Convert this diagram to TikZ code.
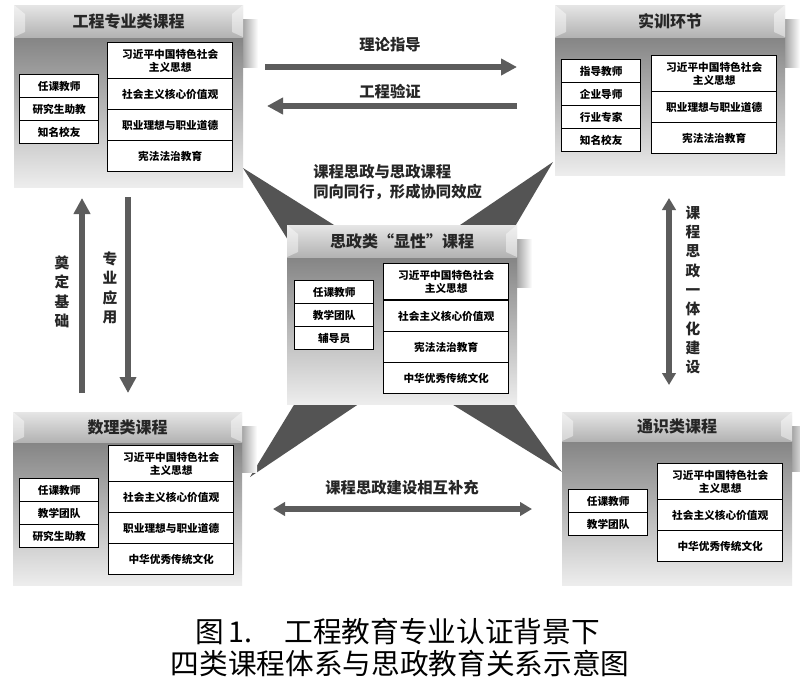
\documentclass[tikz,border=0pt]{standalone}
\usepackage{fontspec}
\setmainfont{Noto Sans CJK SC}
\usetikzlibrary{arrows.meta,fit}
\definecolor{btop}{gray}{0.52}
\definecolor{bbot}{gray}{0.93}
\definecolor{htop}{gray}{0.90}
\definecolor{hbot}{gray}{0.70}
\definecolor{arrowc}{gray}{0.36}
\definecolor{wedgec}{gray}{0.33}
\definecolor{txtc}{gray}{0.15}
\tikzset{
  cell/.style={draw=black, line width=1.1pt, fill=white, inner sep=0pt, align=center,
    font=\fontsize{8}{10}\selectfont\bfseries, anchor=north west},
  lc/.style={cell, minimum width=59.25pt, minimum height=17.25pt},
  rc/.style={cell, minimum width=93.75pt, minimum height=23.25pt},
  rct/.style={rc, minimum height=27pt},
  bodybox/.style={inner sep=0pt, draw=none, top color=btop, bottom color=bbot},
  hdrbox/.style={inner sep=0pt, draw=none, top color=htop, bottom color=hbot},
  titletext/.style={font=\fontsize{12}{14}\selectfont\bfseries, text=txtc},
  lbl/.style={font=\fontsize{11.5}{15}\selectfont\bfseries, text=txtc, inner sep=0pt},
  vlbl/.style={font=\fontsize{11}{14.5}\selectfont\bfseries, text=txtc, align=center, inner sep=0pt},
  fatarrow/.style={draw=arrowc, line width=5pt, -{Triangle[length=12pt,width=12pt]}},
  midarrow/.style={draw=arrowc, line width=4.5pt, {Triangle[length=9pt,width=10pt]}-{Triangle[length=9pt,width=10pt]}},
  wedge/.style={fill=wedgec},
  capt/.style={font=\fontsize{21.5}{26}\selectfont, text=black, inner sep=0pt}
}
\newcommand\coursebox[7]{%
  \fill[left color=gray!80, right color=white] (#3-2,#4+14) rectangle (#3+15,#5+30);
  \node[bodybox, fit={(#2,#5) (#3,#6)}] (#1b) {};
  \node[hdrbox, fit={(#2,#4) (#3,#5)}] (#1h) {};
  \fill[white, opacity=0.45] (#2,#4) -- (#2+11,#4+9) -- (#2+11,#5-5) -- (#2,#5) -- cycle;
  \fill[white, opacity=0.45] (#3,#4) -- (#3-11,#4+9) -- (#3-11,#5-5) -- (#3,#5) -- cycle;
  \node[titletext] (#1t) at (#1h) {#7};
}
\begin{document}
\begin{tikzpicture}[x=0.75pt,y=-0.75pt]
\useasboundingbox (0,0) rectangle (800,686);
\fill[white] (0,0) rectangle (800,686);

% wedges (behind boxes)
\fill[wedge] (243,168) -- (288,240) -- (358,240) -- cycle;
\fill[wedge] (553,162) -- (438,240) -- (507,240) -- cycle;
\fill[wedge] (250,477) -- (300,395) -- (372,395) -- cycle;
\fill[wedge] (562,472) -- (437,395) -- (507,395) -- cycle;

% top-left box
\coursebox{A}{14}{243}{5}{37}{187}{工程专业类课程}
\node[lc] (A1) at (19,74) {任课教师};
\node[lc] (A2) at (19,97) {研究生助教};
\node[lc] (A3) at (19,120) {知名校友};
\node[rct] (A4) at (107,42) {习近平中国特色社会\\主义思想};
\node[rc] (A5) at (107,78) {社会主义核心价值观};
\node[rc] (A6) at (107,109) {职业理想与职业道德};
\node[rc] (A7) at (107,140) {宪法法治教育};

% top-right box
\coursebox{B}{555}{785}{5}{37}{175}{实训环节}
\node[lc] (B1) at (561,59) {指导教师};
\node[lc] (B2) at (561,82) {企业导师};
\node[lc] (B3) at (561,105) {行业专家};
\node[lc] (B4) at (561,128) {知名校友};
\node[rct] (B5) at (651,55) {习近平中国特色社会\\主义思想};
\node[rc] (B6) at (651,91) {职业理想与职业道德};
\node[rc] (B7) at (651,122) {宪法法治教育};

% center box
\coursebox{C}{287}{517}{225}{257}{404}{思政类“显性”课程}
\node[lc] (C1) at (294,280) {任课教师};
\node[lc] (C2) at (294,303) {教学团队};
\node[lc] (C3) at (294,326) {辅导员};
\node[rct] (C4) at (383,263) {习近平中国特色社会\\主义思想};
\node[rc] (C5) at (383,300) {社会主义核心价值观};
\node[rc] (C6) at (383,331) {宪法法治教育};
\node[rc] (C7) at (383,362) {中华优秀传统文化};

% bottom-left box
\coursebox{D}{13}{242}{412}{442}{585}{数理类课程}
\node[lc] (D1) at (19,478) {任课教师};
\node[lc] (D2) at (19,501) {教学团队};
\node[lc] (D3) at (19,524) {研究生助教};
\node[rct] (D4) at (108,445) {习近平中国特色社会\\主义思想};
\node[rc] (D5) at (108,481) {社会主义核心价值观};
\node[rc] (D6) at (108,512) {职业理想与职业道德};
\node[rc] (D7) at (108,543) {中华优秀传统文化};

% bottom-right box
\coursebox{E}{562}{792}{412}{441}{585}{通识类课程}
\node[lc] (E1) at (568,489) {任课教师};
\node[lc] (E2) at (568,512) {教学团队};
\node[rct] (E3) at (657,463) {习近平中国特色社会\\主义思想};
\node[rc] (E4) at (657,499) {社会主义核心价值观};
\node[rc] (E5) at (657,530) {中华优秀传统文化};

% arrows
\coordinate (t1s) at (265,67);  \coordinate (t1e) at (517,67);
\coordinate (t2s) at (517,106); \coordinate (t2e) at (267,106);
\draw[fatarrow] (t1s) -- (t1e);
\draw[fatarrow] (t2s) -- (t2e);
\node[lbl] (L1) at (390,45) {理论指导};
\node[lbl] (L2) at (390,92) {工程验证};

\node[lbl, align=left, anchor=west] (L3) at (313,182) {课程思政与思政课程\\同向同行，形成协同效应};

\coordinate (bs) at (273,509); \coordinate (be) at (532,509);
\draw[midarrow] (bs) -- (be);
\node[lbl] (L4) at (402,488) {课程思政建设相互补充};

\coordinate (u1s) at (82,393);  \coordinate (u1e) at (82,198);
\coordinate (d1s) at (128,197); \coordinate (d1e) at (128,393);
\draw[fatarrow] (u1s) -- (u1e);
\draw[fatarrow] (d1s) -- (d1e);
\node[vlbl] (L5) at (62,292) {奠\\定\\基\\础};
\node[vlbl] (L6) at (110,288) {专\\业\\应\\用};

\coordinate (rs) at (669,198); \coordinate (re) at (669,385);
\draw[midarrow] (rs) -- (re);
\node[vlbl] (L7) at (693,290) {课\\程\\思\\政\\一\\体\\化\\建\\设};

% caption
\node[capt, anchor=west] (cap1) at (195,632) {图\,1.\hspace{24pt}工程教育专业认证背景下};
\node[capt] (cap2) at (400,664) {四类课程体系与思政教育关系示意图};
\end{tikzpicture}
\end{document}
